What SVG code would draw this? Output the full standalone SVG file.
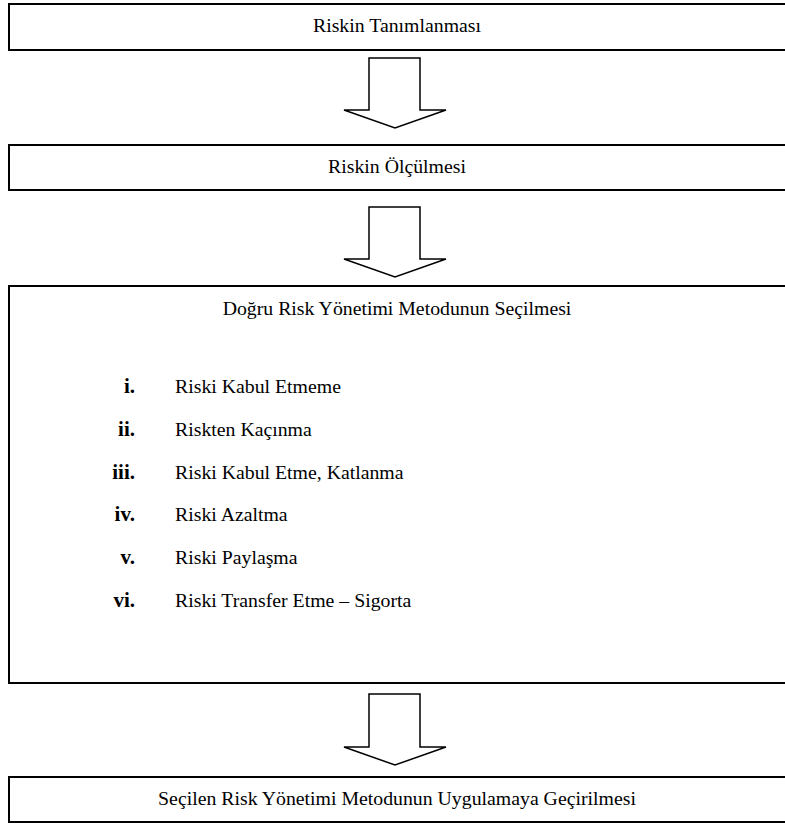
<svg xmlns="http://www.w3.org/2000/svg" width="785" height="826" viewBox="0 0 785 826">
<defs>
<style>
.box{fill:#fff;stroke:#000;stroke-width:2}
.arrow{fill:#fff;stroke:#000;stroke-width:1.5;stroke-linejoin:miter}
text{font-family:"Liberation Serif","Times New Roman",serif;font-size:19.8px;fill:#000}
.c{text-anchor:middle}
.num{font-weight:bold;text-anchor:end;font-size:21px}
</style>
</defs>
<rect width="785" height="826" fill="#fff"/>
<g id="connectors">
<path class="arrow" d="M369,58 H420 V110 H446 L395,128 L344,110 H369 Z"/>
<path class="arrow" d="M369,207 H420 V259 H446 L395,277 L344,259 H369 Z"/>
<path class="arrow" d="M369,694 H420 V747 H446 L395,765 L344,747 H369 Z"/>
</g>
<g id="node1">
<rect class="box" x="9" y="4" width="790" height="46"/>
<text class="c" x="397" y="32">Riskin Tanımlanması</text>
</g>
<g id="node2">
<rect class="box" x="9" y="145" width="790" height="45"/>
<text class="c" x="397" y="173">Riskin Ölçülmesi</text>
</g>
<g id="node3">
<rect class="box" x="9" y="286" width="790" height="397"/>
<text class="c" x="397" y="315">Doğru Risk Yönetimi Metodunun Seçilmesi</text>
<text class="num" x="135" y="393">i.</text><text x="175" y="393">Riski Kabul Etmeme</text>
<text class="num" x="135" y="436">ii.</text><text x="175" y="436">Riskten Kaçınma</text>
<text class="num" x="135" y="479">iii.</text><text x="175" y="479">Riski Kabul Etme, Katlanma</text>
<text class="num" x="135" y="521">iv.</text><text x="175" y="521">Riski Azaltma</text>
<text class="num" x="135" y="564">v.</text><text x="175" y="564">Riski Paylaşma</text>
<text class="num" x="135" y="607">vi.</text><text x="175" y="607">Riski Transfer Etme – Sigorta</text>
</g>
<g id="node4">
<rect class="box" x="9" y="777" width="790" height="45"/>
<text class="c" x="397" y="805">Seçilen Risk Yönetimi Metodunun Uygulamaya Geçirilmesi</text>
</g>
</svg>
